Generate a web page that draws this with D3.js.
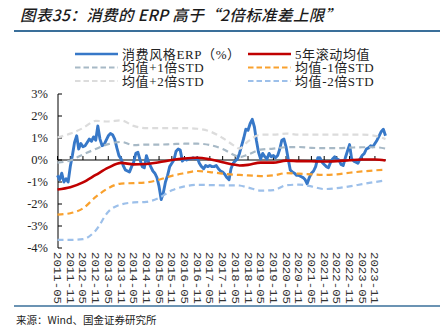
<!DOCTYPE html>
<html><head><meta charset="utf-8">
<script src="https://cdn.jsdelivr.net/npm/d3@7"></script>
<style>
html,body{margin:0;padding:0;background:#fff;}
svg{display:block;}
</style></head>
<body><svg id="c" width="440" height="327"></svg>
<script>
// ---------- DATA ----------
const titleText = "图表35：消费的 ERP 高于“2倍标准差上限”";
const sourceText = "来源：Wind、国金证券研究所";
const seriesNames = ["消费风格ERP（%）","5年滚动均值","均值+1倍STD","均值-1倍STD","均值+2倍STD","均值-2倍STD"];
const yTicks = [3,2,1,0,-1,-2,-3,-4];
const xTickLabels = ["2011-05","2011-11","2012-05","2012-11","2013-05","2013-11","2014-05","2014-11","2015-05","2015-11","2016-05","2016-11","2017-05","2017-11","2018-05","2018-11","2019-05","2019-11","2020-05","2020-11","2021-05","2021-11","2022-05","2022-11","2023-05","2023-11"];
// ERP monthly values from 2011-05 to 2024-04
const erpStart = "2011-05";
const erpValues = [
-0.7,-0.9,-0.6,-1.0,-0.85,-1.0,-0.3,0.2,0.8,1.1,0.5,0.75,0.6,0.65,0.8,0.95,0.85,1.05,0.9,1.55,
0.95,0.65,0.7,0.9,1.1,1.2,1.15,0.95,0.55,0.2,0.05,-0.25,-0.45,-0.5,-0.55,-0.3,-0.1,0.3,0.35,0.0,
-0.3,-0.35,0.2,-0.1,-0.3,-0.5,-0.6,-0.8,-1.2,-1.8,-1.5,-1.0,-0.7,-0.3,-0.15,0.0,0.4,0.5,0.45,-0.05,
0.05,0.0,0.05,0.05,0.1,0.05,0.1,-0.15,-0.3,-0.4,-0.25,-0.3,-0.25,-0.3,-0.3,-0.25,-0.4,-0.5,-0.55,-0.65,
-0.8,-0.9,-0.4,-0.15,-0.05,0.05,0.3,0.65,1.0,1.4,1.35,1.65,1.85,1.5,0.9,0.35,0.05,0.3,0.15,0.05,
0.3,0.15,0.2,0.1,0.2,0.5,0.9,0.95,0.6,0.05,-0.45,-0.55,-0.6,-0.7,-0.7,-0.75,-0.8,-0.9,-1.08,-0.8,
-0.6,-0.5,-0.3,0.1,0.1,-0.1,-0.2,-0.3,-0.35,-0.1,0.05,0.15,0.05,0.0,-0.2,-0.25,0.1,0.4,0.7,0.05,
-0.05,-0.1,-0.15,0.05,0.2,0.3,0.5,0.55,0.65,0.6,0.75,0.9,1.1,1.3,1.4,1.1];
// band dates and values
const bandDates = ["2011-05","2011-11","2012-05","2012-11","2013-05","2013-11","2014-05","2014-11","2015-05","2015-11","2016-05","2016-11","2017-05","2017-11","2018-05","2018-07","2018-11","2019-05","2019-11","2020-05","2020-11","2021-05","2021-11","2022-05","2022-11","2023-05","2023-11","2024-04"];
const meanValues  = [-1.34,-1.24,-1.02,-0.68,-0.35,-0.13,-0.2,-0.18,-0.1,0.0,0.07,0.1,0.03,-0.1,-0.22,-0.25,-0.22,-0.12,-0.12,-0.03,-0.05,-0.06,-0.07,-0.05,-0.01,0.02,0.02,-0.02];
const plus1Values = [-0.12,-0.02,0.25,0.5,0.72,0.82,0.68,0.7,0.7,0.72,0.74,0.74,0.68,0.5,0.2,0.13,0.25,0.47,0.52,0.58,0.59,0.55,0.54,0.54,0.56,0.58,0.58,0.52];
const minus1Values= [-2.48,-2.42,-2.2,-1.68,-1.28,-1.07,-1.05,-1.02,-0.9,-0.72,-0.6,-0.5,-0.55,-0.62,-0.67,-0.68,-0.7,-0.73,-0.7,-0.6,-0.62,-0.65,-0.68,-0.65,-0.58,-0.52,-0.47,-0.44];
const plus2Values = [1.02,1.2,1.45,1.78,1.75,1.8,1.55,1.45,1.45,1.45,1.45,1.42,1.3,1.0,0.62,0.52,0.85,1.15,1.15,1.2,1.15,1.15,1.15,1.15,1.15,1.15,1.1,0.95];
const minus2Values= [-3.63,-3.63,-3.6,-3.2,-2.35,-2.02,-1.93,-1.9,-1.72,-1.38,-1.2,-1.13,-1.14,-1.15,-1.15,-1.16,-1.25,-1.39,-1.37,-1.15,-1.12,-1.2,-1.32,-1.28,-1.2,-1.1,-1.0,-0.93];
const colors = ["#3778C8","#C00000","#A7B9C6","#F9A12E","#DCDCDC","#9DC0EA"];

// ---------- CHART ----------
const svg = d3.select("#c");
const parse = d3.timeParse("%Y-%m");
const erpDates = erpValues.map((v,i)=>d3.timeMonth.offset(parse(erpStart), i));
const bDates = bandDates.map(parse);

const x = d3.scaleTime().domain([parse("2011-05"), parse("2024-04")]).range([57.5, 385.5]);
const y = d3.scaleLinear().domain([-4,3]).range([248,94]);

// title
svg.append("text").attr("x",20).attr("y",21).attr("font-family","'Noto Sans CJK SC','Liberation Sans',sans-serif")
  .attr("font-size",15.5).attr("font-style","italic").attr("font-weight",500).attr("letter-spacing",0.4).attr("fill","#1b1b1b").text(titleText);
svg.append("line").attr("x1",14).attr("x2",440).attr("y1",31).attr("y2",31).attr("stroke","#3A6F9A").attr("stroke-width",2);

// bottom line & source
svg.append("line").attr("x1",14).attr("x2",440).attr("y1",306).attr("y2",306).attr("stroke","#3A6F9A").attr("stroke-width",1.5);
svg.append("text").attr("x",16).attr("y",324).attr("font-family","'Noto Sans CJK SC',sans-serif")
  .attr("font-size",10.5).attr("fill","#222").text(sourceText);

// legend
const legendPos = [[75,54],[248,54],[75,67.5],[248,67.5],[75,81],[248,81]];
seriesNames.forEach((n,i)=>{
  const [lx,ly] = legendPos[i];
  svg.append("line").attr("x1",lx).attr("x2",lx+43).attr("y1",ly).attr("y2",ly)
    .attr("stroke",colors[i]).attr("stroke-width",i<2?2.5:2.2)
    .attr("stroke-dasharray",i<2?null:"5.5,3");
  svg.append("text").attr("x",lx+47).attr("y",ly+4.5)
    .attr("font-family","'Liberation Serif','Noto Sans CJK SC',serif").attr("font-size",13)
    .attr("letter-spacing",0.6).attr("fill","#222").text(n);
});

// y axis
const ya = svg.append("g").attr("transform","translate(58,0)");
ya.append("line").attr("x1",0).attr("x2",0).attr("y1",y(3)).attr("y2",y(-4)).attr("stroke","#000");
yTicks.forEach(t=>{
  ya.append("line").attr("x1",0).attr("x2",4).attr("y1",y(t)).attr("y2",y(t)).attr("stroke","#000");
  ya.append("text").attr("x",-10).attr("y",y(t)).attr("dy","0.35em").attr("text-anchor","end")
    .attr("font-family","'Liberation Serif',serif").attr("font-size",12.5).attr("fill","#222").text(t+"%");
});

// x axis at 0
svg.append("line").attr("x1",58).attr("x2",386).attr("y1",y(0)).attr("y2",y(0)).attr("stroke","#000");
xTickLabels.forEach(l=>{
  const xp = x(parse(l));
  svg.append("line").attr("x1",xp).attr("x2",xp).attr("y1",y(0)).attr("y2",y(0)-4).attr("stroke","#000");
  svg.append("text").attr("transform",`translate(${xp},252) rotate(90)`)
    .attr("dominant-baseline","central").attr("font-family","'Liberation Mono',monospace")
    .attr("font-size",11.5).attr("textLength",52).attr("lengthAdjust","spacingAndGlyphs").attr("fill","#333").text(l);
});

// series
const line = d3.line().x(d=>x(d[0])).y(d=>y(d[1]));
const sLine = d3.line().x(d=>x(d[0])).y(d=>y(d[1])).curve(d3.curveMonotoneX);
svg.append("path").datum(erpDates.map((d,i)=>[d,erpValues[i]])).attr("d",line)
  .attr("fill","none").attr("stroke",colors[0]).attr("stroke-width",2.9).attr("stroke-linejoin","round");
const bands = [meanValues,plus1Values,minus1Values,plus2Values,minus2Values];
bands.forEach((vals,j)=>{
  const i=j+1;
  svg.append("path").datum(bDates.map((d,k)=>[d,vals[k]])).attr("d",sLine)
    .attr("fill","none").attr("stroke",colors[i]).attr("stroke-width",i===1?2.6:2.2)
    .attr("stroke-dasharray",i===1?null:"6,4");
});
</script></body></html>
